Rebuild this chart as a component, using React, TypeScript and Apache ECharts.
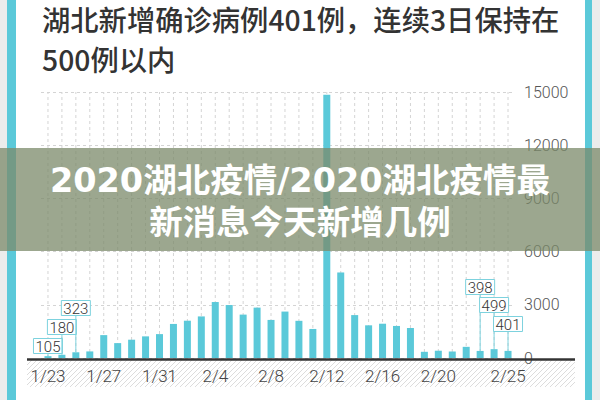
import { useEffect, useRef } from 'react';
import * as echarts from 'echarts';

// daily new confirmed cases in Hubei, 1/23 - 2/25
const days = [
  '1/23', '1/24', '1/25', '1/26', '1/27', '1/28', '1/29', '1/30', '1/31',
  '2/1', '2/2', '2/3', '2/4', '2/5', '2/6', '2/7', '2/8', '2/9', '2/10',
  '2/11', '2/12', '2/13', '2/14', '2/15', '2/16', '2/17', '2/18', '2/19',
  '2/20', '2/21', '2/22', '2/23', '2/24', '2/25',
];
const newCases = [
  105, 180, 323, 371, 1291, 840, 1032, 1220, 1347,
  1921, 2103, 2345, 3156, 2987, 2447, 2841, 2147, 2618, 2097,
  1638, 14840, 4823, 2420, 1843, 1933, 1807, 1693, 349,
  411, 366, 630, 398, 499, 401,
];
const shownDays = ['1/23', '1/27', '1/31', '2/4', '2/8', '2/12', '2/16', '2/20', '2/25'];
const calloutDays = ['1/23', '1/24', '1/25', '2/23', '2/24', '2/25'];
const yTicks = [0, 3000, 6000, 9000, 12000, 15000];

const TITLE_LINES = ['湖北新增确诊病例401例，连续3日保持在', '500例以内'];
const BANNER = '2020湖北疫情/2020湖北疫情最\n新消息今天新增几例';

// layout
const CYAN = '#5bc9d9';
const CALLOUT = '#7dd2de';
const CALLOUT_LIFT = [12, 31, 50, 71, 53, 34];
const GRID = { left: 41, right: 85, top: 92, bottom: 42 };
const BASE_Y = 400 - GRID.bottom;

export default function App() {
  const ref = useRef<HTMLDivElement | null>(null);

  useEffect(() => {
    if (!ref.current) return;
    const chart = echarts.init(ref.current, undefined, { renderer: 'svg' });

    // hatched strip under the axis, drawn as clipped 45deg strokes
    const hatch: any[] = [];
    const hx0 = 27, hx1 = 575, hy0 = BASE_Y + 2, hy1 = BASE_Y + 29;
    const hh = hy1 - hy0;
    for (let s = hx0 - hh; s < hx1; s += 5) {
      const xa = Math.max(s, hx0);
      const xb = Math.min(s + hh, hx1);
      hatch.push({
        type: 'line',
        silent: true,
        z: 0,
        shape: { x1: xa, y1: hy1 - (xa - s), x2: xb, y2: hy1 - (xb - s) },
        style: { stroke: '#dcdcdc', lineWidth: 1 },
      });
    }

    const titleText = TITLE_LINES.map((t, i) => ({
      type: 'text',
      silent: true,
      z: 10,
      x: 42,
      y: 18.5 + i * 40,
      style: {
        text: t,
        verticalAlign: 'middle',
        fontFamily: 'Noto Sans CJK SC',
        fontSize: 28.3,
        fontWeight: 500,
        lineHeight: 30,
        fill: '#333',
      },
    }));

    const option: any = {
      animation: false,
      backgroundColor: '#fff',
      grid: { ...GRID, containLabel: false },
      xAxis: {
        type: 'category',
        data: days,
        boundaryGap: true,
        axisLine: { show: false },
        axisTick: { show: false },
        splitLine: { show: false },
        axisLabel: {
          interval: (i: number) => shownDays.includes(days[i]),
          margin: 9,
          fontFamily: 'Roboto',
          fontWeight: 300,
          fontSize: 17,
          color: '#444',
        },
      },
      yAxis: {
        type: 'value',
        position: 'right',
        min: yTicks[0],
        max: yTicks[yTicks.length - 1],
        interval: yTicks[1] - yTicks[0],
        axisLine: { show: false },
        axisTick: { show: false },
        axisLabel: {
          margin: 9,
          formatter: (v: number) => String(v),
          fontFamily: 'Roboto',
          fontWeight: 300,
          fontSize: 16,
          color: '#555',
        },
        splitLine: { lineStyle: { color: '#d4d4d4', type: [3, 3], width: 1 } },
      },
      series: [
        {
          // vertical dashed guides through each day
          type: 'custom',
          z: 1,
          silent: true,
          data: days.map((_, i) => [i]),
          renderItem: (_p: any, api: any) => {
            const a = api.coord([api.value(0), yTicks[0]]);
            const b = api.coord([api.value(0), yTicks[yTicks.length - 1]]);
            return {
              type: 'line',
              shape: { x1: a[0], y1: a[1], x2: b[0], y2: b[1] },
              style: { stroke: '#d4d4d4', lineWidth: 1, lineDash: [3, 3] },
            };
          },
        },
        {
          type: 'bar',
          z: 2,
          data: newCases,
          barWidth: 7,
          itemStyle: { color: CYAN },
        },
        {
          type: 'custom',
          z: 3,
          silent: true,
          data: calloutDays.map((d) => {
            const i = days.indexOf(d);
            return [i, newCases[i]];
          }),
          renderItem: (p: any, api: any) => {
            const pt = api.coord([api.value(0), api.value(1)]);
            const cy = BASE_Y - CALLOUT_LIFT[p.dataIndex];
            return {
              type: 'group',
              children: [
                {
                  type: 'line',
                  shape: { x1: pt[0], y1: cy + 7.5, x2: pt[0], y2: pt[1] },
                  style: { stroke: CALLOUT, lineWidth: 1 },
                },
                {
                  type: 'rect',
                  shape: { x: pt[0] - 14.5, y: cy - 7.5, width: 29, height: 15 },
                  style: { fill: '#fff', stroke: CALLOUT, lineWidth: 1 },
                },
                {
                  type: 'text',
                  style: {
                    text: String(api.value(1)),
                    x: pt[0],
                    y: cy + 0.5,
                    align: 'center',
                    verticalAlign: 'middle',
                    fontFamily: 'Roboto',
                    fontWeight: 300,
                    fontSize: 15,
                    fill: '#333',
                  },
                },
              ],
            };
          },
        },
      ],
      graphic: [
        // frame
        { type: 'rect', silent: true, z: 50, shape: { x: 0, y: 0, width: 7, height: 400 }, style: { fill: '#ececec' } },
        { type: 'rect', silent: true, z: 50, shape: { x: 7, y: 0, width: 9, height: 400 }, style: { fill: CYAN } },
        { type: 'rect', silent: true, z: 50, shape: { x: 585, y: 0, width: 7, height: 400 }, style: { fill: CYAN } },
        { type: 'rect', silent: true, z: 50, shape: { x: 592, y: 0, width: 8, height: 400 }, style: { fill: '#ececec' } },
        ...titleText,
        ...hatch,
        {
          type: 'line',
          silent: true,
          z: 5,
          shape: { x1: 27, y1: BASE_Y + 1.5, x2: 575, y2: BASE_Y + 1.5 },
          style: { stroke: '#333', lineWidth: 2.5 },
        },
        // banner overlay
        {
          type: 'rect',
          silent: true,
          z: 100,
          shape: { x: 0, y: 148, width: 600, height: 103 },
          style: { fill: 'rgba(123,137,105,0.75)' },
        },
        {
          type: 'text',
          silent: true,
          z: 101,
          x: 300,
          y: 201,
          style: {
            text: BANNER,
            align: 'center',
            verticalAlign: 'middle',
            fontFamily: "'DejaVu Sans', 'Noto Sans CJK SC'",
            fontWeight: 'bold',
            fontSize: 33.5,
            lineHeight: 42,
            fill: '#fff',
          },
        },
      ],
    };

    chart.setOption(option);
    return () => chart.dispose();
  }, []);

  return (
    <div
      ref={ref}
      style={{ position: 'absolute', left: 0, top: 0, width: 600, height: 400 }}
    />
  );
}
